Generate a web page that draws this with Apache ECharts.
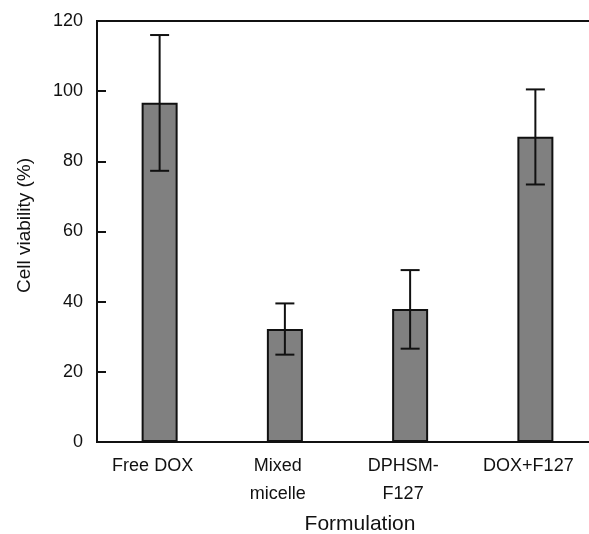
<!DOCTYPE html>
<html>
<head>
<meta charset="utf-8">
<script src="https://cdn.jsdelivr.net/npm/echarts@6/dist/echarts.min.js"></script>
<style>
  html, body { margin: 0; padding: 0; background: #fff; }
  #chart { width: 589px; height: 534px; }
</style>
</head>
<body>
<div id="chart"></div>
<script>
const categories = ['Free DOX', 'Mixed\nmicelle', 'DPHSM-\nF127', 'DOX+F127']
const viability = [96.7, 32.2, 37.9, 87.0]
const errLow = [77.3, 24.9, 26.6, 73.4]
const errHigh = [116.0, 39.5, 49.0, 100.5]
const yTicks = [0, 20, 40, 60, 80, 100, 120]

const chart = echarts.init(document.getElementById('chart'))
const font = 'Arial, "Liberation Sans", sans-serif'
const ink = '#111'

const option = {
  animation: false,
  grid: {
    left: 97,
    top: 21,
    width: 501,
    bottom: 92,
    outerBoundsMode: 'none',
    containLabel: false,
    show: true,
    borderColor: ink,
    borderWidth: 2
  },
  xAxis: {
    type: 'category',
    data: categories,
    name: 'Formulation',
    nameLocation: 'middle',
    nameGap: 72,
    nameTextStyle: { fontFamily: font, fontSize: 21, color: ink, padding: [0, 0, 0, 25] },
    axisLine: { lineStyle: { color: ink, width: 2 } },
    axisTick: { inside: true, length: 6, lineStyle: { color: ink, width: 2 } },
    axisLabel: { fontFamily: font, fontSize: 18, color: ink, lineHeight: 28, margin: 10, padding: [0, 14, 0, 0] },
    splitLine: { show: false }
  },
  yAxis: {
    type: 'value',
    min: yTicks[0],
    max: yTicks[yTicks.length - 1],
    interval: 20,
    name: 'Cell viability (%)',
    nameLocation: 'middle',
    nameGap: 63,
    nameTextStyle: { fontFamily: font, fontSize: 19, color: ink, padding: [0, 0, 0, 12] },
    axisLine: { show: true, lineStyle: { color: ink, width: 2 } },
    axisTick: { show: true, inside: true, length: 9, lineStyle: { color: ink, width: 2 } },
    axisLabel: { fontFamily: font, fontSize: 18, color: ink, margin: 14 },
    splitLine: { show: false }
  },
  series: [
    {
      type: 'bar',
      data: viability,
      barWidth: 36,
      itemStyle: { color: '#808080', borderColor: ink, borderWidth: 2 }
    },
    {
      type: 'custom',
      data: categories.map((c, i) => [i, errLow[i], errHigh[i]]),
      z: 10,
      renderItem: (params, api) => {
        const x = api.value(0)
        const lo = api.coord([x, api.value(1)])
        const hi = api.coord([x, api.value(2)])
        const half = 9.5
        const style = { stroke: ink, lineWidth: 2 }
        return {
          type: 'group',
          children: [
            { type: 'line', shape: { x1: hi[0], y1: hi[1], x2: lo[0], y2: lo[1] }, style },
            { type: 'line', shape: { x1: hi[0] - half, y1: hi[1], x2: hi[0] + half, y2: hi[1] }, style },
            { type: 'line', shape: { x1: lo[0] - half, y1: lo[1], x2: lo[0] + half, y2: lo[1] }, style }
          ]
        }
      }
    }
  ]
}

chart.setOption(option)
</script>
</body>
</html>
